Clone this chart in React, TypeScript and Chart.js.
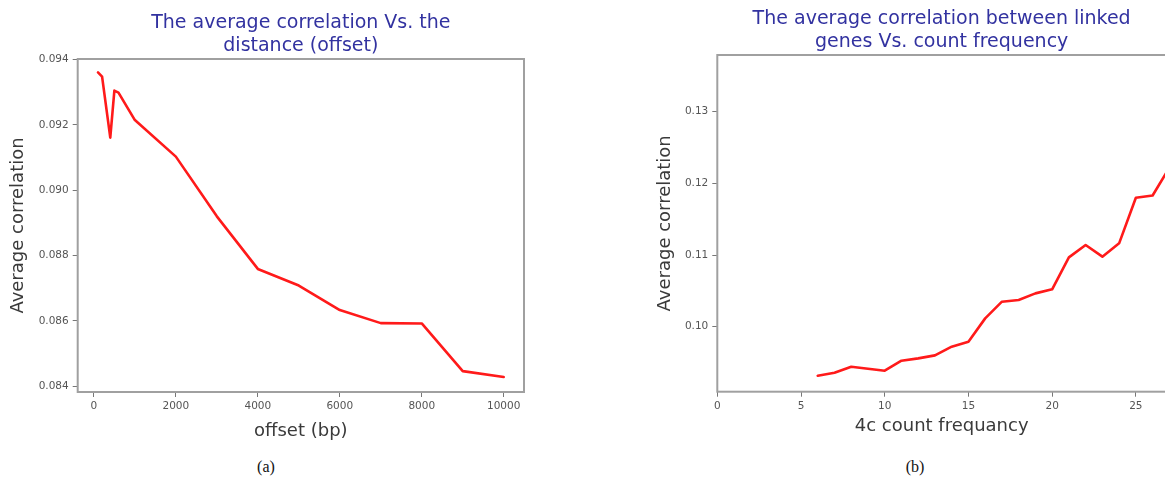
import React, { useEffect, useRef } from "react";
import { Chart, registerables } from "chart.js";

Chart.register(...registerables);

// ---- Data: left panel (a) ----
const offsetBp = [100, 200, 400, 500, 600, 1000, 2000, 3000, 4000, 5000, 6000, 7000, 8000, 9000, 10000];
const corrByOffset = [0.09361, 0.09348, 0.09161, 0.09305, 0.09299, 0.09215, 0.09103, 0.0892, 0.08759, 0.08708, 0.08633, 0.08593, 0.08592, 0.08446, 0.08428];
const leftXTicks = [0, 2000, 4000, 6000, 8000, 10000];
const leftYTicks = [0.084, 0.086, 0.088, 0.09, 0.092, 0.094];

// ---- Data: right panel (b) ----
const countFreq = [6, 7, 8, 9, 10, 11, 12, 13, 14, 15, 16, 17, 18, 19, 20, 21, 22, 23, 24, 25, 26, 27];
const corrByCount = [0.09316, 0.09358, 0.09442, 0.09414, 0.09386, 0.09526, 0.09558, 0.096, 0.09721, 0.09791, 0.10116, 0.10349, 0.10372, 0.10465, 0.10521, 0.10967, 0.1114, 0.10977, 0.11163, 0.118, 0.1183, 0.1222];
const rightXTicks = [0, 5, 10, 15, 20, 25];
const rightYTicks = [0.1, 0.11, 0.12, 0.13];

const FONT = "'DejaVu Sans', sans-serif";
const TITLE_COLOR = "#3232a0";
const LABEL_COLOR = "#3a3a3a";
const TICK_COLOR = "#555555";
const SPINE_COLOR = "#a0a0a0";

const boxPlugin = {
  id: "boxSpines",
  afterDraw(chart: any) {
    const { ctx, chartArea: a } = chart;
    ctx.save();
    ctx.strokeStyle = SPINE_COLOR;
    ctx.lineWidth = 2;
    ctx.strokeRect(a.left, a.top, a.right - a.left, a.bottom - a.top);
    ctx.restore();
  },
};

type PanelCfg = {
  xs: number[];
  ys: number[];
  xMin: number;
  xMax: number;
  yMin: number;
  yMax: number;
  xTicks: number[];
  yTicks: number[];
  yDecimals: number;
  title: string[];
  xTitle: string;
  yWidth: number;
  xHeight: number;
  titlePadTop: number;
  titlePadBottom: number;
  yTitlePad: number;
  padRight: number;
};

function makeConfig(c: PanelCfg): any {
  return {
    type: "line",
    data: {
      datasets: [
        {
          data: c.xs.map((x, i) => ({ x, y: c.ys[i] })),
          borderColor: "#ff1a1a",
          borderWidth: 2.6,
          pointRadius: 0,
          tension: 0,
          fill: false,
          borderJoinStyle: "round",
          borderCapStyle: "round",
        },
      ],
    },
    options: {
      animation: false,
      responsive: false,
      devicePixelRatio: 1,
      layout: { padding: { left: 0, right: c.padRight, top: 0, bottom: 0 } },
      plugins: {
        legend: { display: false },
        tooltip: { enabled: false },
        title: {
          display: true,
          text: c.title,
          fullSize: false,
          color: TITLE_COLOR,
          font: { family: FONT, size: 19, weight: "normal", lineHeight: 1.2 },
          padding: { top: c.titlePadTop, bottom: c.titlePadBottom },
        },
      },
      scales: {
        x: {
          type: "linear",
          min: c.xMin,
          max: c.xMax,
          afterBuildTicks: (s: any) => {
            s.ticks = c.xTicks.map((v) => ({ value: v }));
          },
          afterFit: (s: any) => {
            s.height = c.xHeight;
          },
          border: { display: false },
          grid: {
            display: true,
            drawOnChartArea: false,
            drawTicks: true,
            tickLength: 5,
            tickColor: "#777777",
            tickWidth: 1,
          },
          ticks: {
            color: TICK_COLOR,
            font: { family: FONT, size: 10.5 },
            padding: 3,
            maxRotation: 0,
            autoSkip: false,
            callback: (v: any) => String(v),
          },
          title: {
            display: true,
            text: c.xTitle,
            color: LABEL_COLOR,
            font: { family: FONT, size: 18 },
            padding: { top: 0, bottom: 3.2 },
          },
        },
        y: {
          type: "linear",
          min: c.yMin,
          max: c.yMax,
          afterBuildTicks: (s: any) => {
            s.ticks = c.yTicks.map((v) => ({ value: v }));
          },
          afterFit: (s: any) => {
            s.width = c.yWidth;
          },
          border: { display: false },
          grid: {
            display: true,
            drawOnChartArea: false,
            drawTicks: true,
            tickLength: 5,
            tickColor: "#777777",
            tickWidth: 1,
          },
          ticks: {
            color: TICK_COLOR,
            font: { family: FONT, size: 10.5 },
            padding: 4,
            autoSkip: false,
            callback: (v: any) => Number(v).toFixed(c.yDecimals),
          },
          title: {
            display: true,
            text: "Average correlation",
            color: LABEL_COLOR,
            font: { family: FONT, size: 18 },
            padding: { top: c.yTitlePad, bottom: 0 },
          },
        },
      },
    },
    plugins: [boxPlugin],
  };
}

function Panel({ cfg, left, top, width, height }: { cfg: PanelCfg; left: number; top: number; width: number; height: number }) {
  const ref = useRef<HTMLCanvasElement | null>(null);
  useEffect(() => {
    if (!ref.current) return;
    const chart = new Chart(ref.current, makeConfig(cfg));
    return () => chart.destroy();
  }, []);
  return (
    <canvas
      ref={ref}
      width={width}
      height={height}
      style={{ position: "absolute", left, top, width, height }}
    />
  );
}

const leftCfg: PanelCfg = {
  xs: offsetBp,
  ys: corrByOffset,
  xMin: -395,
  xMax: 10495,
  yMin: 0.08382,
  yMax: 0.09402,
  xTicks: leftXTicks,
  yTicks: leftYTicks,
  yDecimals: 3,
  title: ["The average correlation Vs. the", "distance (offset)"],
  xTitle: "offset (bp)",
  yWidth: 77.7,
  xHeight: 53,
  titlePadTop: 11.4,
  titlePadBottom: 2,
  yTitlePad: 7.2,
  padRight: 36,
};

const rightCfg: PanelCfg = {
  xs: countFreq,
  ys: corrByCount,
  xMin: 0,
  xMax: 26.8,
  yMin: 0.09093,
  yMax: 0.13791,
  xTicks: rightXTicks,
  yTicks: rightYTicks,
  yDecimals: 2,
  title: ["The average correlation between linked", "genes Vs. count frequency"],
  xTitle: "4c count frequancy",
  yWidth: 77.3,
  xHeight: 48.3,
  titlePadTop: 7.4,
  titlePadBottom: 2,
  yTitlePad: 14.2,
  padRight: 54,
};

export default function App() {
  const captionStyle: React.CSSProperties = {
    position: "absolute",
    top: 457,
    transform: "translateX(-50%)",
    fontFamily: "'Liberation Serif', 'DejaVu Serif', serif",
    fontSize: 16,
    lineHeight: "20px",
    color: "#111",
  };
  return (
    <div
      style={{
        position: "fixed",
        left: 0,
        top: 0,
        width: 1165,
        height: 482,
        overflow: "hidden",
        background: "#ffffff",
      }}
    >
      <Panel cfg={leftCfg} left={0} top={0} width={560} height={445} />
      <Panel cfg={rightCfg} left={640} top={0} width={580} height={440} />
      <div style={{ ...captionStyle, left: 266 }}>(a)</div>
      <div style={{ ...captionStyle, left: 915 }}>(b)</div>
    </div>
  );
}
